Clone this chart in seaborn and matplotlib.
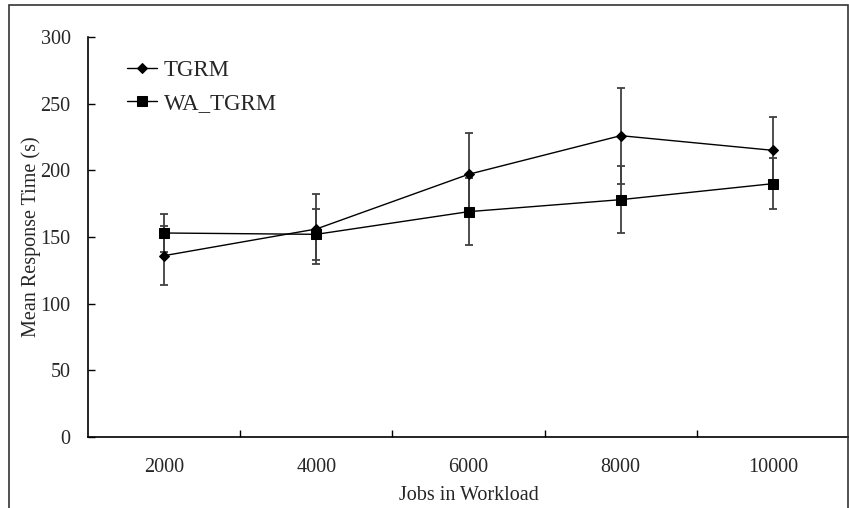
import matplotlib
matplotlib.use("Agg")
import matplotlib.pyplot as plt
import seaborn as sns
import pandas as pd
from matplotlib.patches import Rectangle

jobs = ["2000", "4000", "6000", "8000", "10000"]
tgrm_mean = [136, 156, 197, 226, 215]
tgrm_err = [22, 26, 31, 36, 25]
wa_mean = [153, 152, 169, 178, 190]
wa_err = [14, 19, 25, 25, 19]
yticks = [0, 50, 100, 150, 200, 250, 300]

sns.set_theme(style="white")
plt.rcParams["font.family"] = ["Liberation Serif", "DejaVu Serif"]

fig = plt.figure(figsize=(8.49, 5.08), dpi=100)
ax = fig.add_axes([88/849, 1-437/508, (849-88)/849, (437-37)/508])

df = pd.DataFrame({
    "Jobs": jobs * 2,
    "Time": tgrm_mean + wa_mean,
    "Series": ["TGRM"] * len(jobs) + ["WA_TGRM"] * len(jobs),
})
sns.lineplot(data=df, x="Jobs", y="Time", hue="Series", style="Series",
             markers={"TGRM": "D", "WA_TGRM": "s"}, dashes=False,
             palette={"TGRM": "black", "WA_TGRM": "black"},
             markersize=7, linewidth=1.0, ax=ax, sort=False,
             markeredgecolor="black", zorder=3)
for line in ax.lines:
    if line.get_marker() == "D":
        line.set_markersize(5.5)
    elif line.get_marker() == "s":
        line.set_markersize(7.5)

pos = list(range(len(jobs)))
ax.errorbar(pos, tgrm_mean, yerr=tgrm_err, fmt="none", ecolor="#404040",
            elinewidth=1.3, capsize=2.6, capthick=1.3, zorder=2)
ax.errorbar(pos, wa_mean, yerr=wa_err, fmt="none", ecolor="#404040",
            elinewidth=1.3, capsize=2.6, capthick=1.3, zorder=2)

ax.set_xlim(-0.5, len(jobs) - 0.5)
ax.set_ylim(0, 300)
ax.set_yticks(yticks)
ax.set_yticklabels([str(v) for v in yticks], fontsize=14.5)
ax.set_xticks(pos)
ax.set_xticklabels(jobs, fontsize=14.5)
ax.tick_params(axis="x", which="major", length=0, pad=15)
ax.set_xticks([p + 0.5 for p in pos[:-1]], minor=True)
ax.tick_params(axis="x", which="minor", direction="in", length=5, width=1, color="black", bottom=True)
ax.tick_params(axis="y", direction="in", length=5, width=1, color="black", left=True, pad=12.5)

for s in ["top", "right"]:
    ax.spines[s].set_visible(False)
for s in ["left", "bottom"]:
    ax.spines[s].set_color("black")
    ax.spines[s].set_linewidth(1.2)

ax.set_xlabel("Jobs in Workload", fontsize=14.5, labelpad=6.5)
ax.set_ylabel("Mean Response Time (s)", fontsize=14.5, labelpad=0)

leg = ax.legend(loc="upper left", bbox_to_anchor=(0.024, 0.995), frameon=False,
                fontsize=16.5, handlelength=1.3, handletextpad=0.3, labelspacing=0.55)

fig.patches.append(Rectangle((9/849, -0.01), (848-9)/849, 1 - 5/508 + 0.01,
                             transform=fig.transFigure, fill=False,
                             edgecolor="#333333", linewidth=1.2))

fig.savefig("out.png", dpi=100)
